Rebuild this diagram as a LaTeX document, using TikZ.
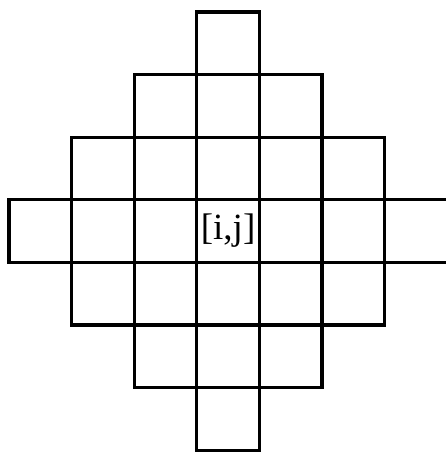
\documentclass[tikz,border=0pt]{standalone}
\usepackage{fontspec}
\setmainfont{Liberation Serif}
\begin{document}
\begin{tikzpicture}[x=1pt,y=1pt,
  cell/.style={draw=black, line width=3.3pt, minimum size=62.6pt, inner sep=0pt, outer sep=0pt, font=\fontsize{37}{40}\selectfont}]
\useasboundingbox (0,0) rectangle (446,452);
\foreach \r/\a/\b in {0/3/3,1/2/4,2/1/5,3/0/6,4/1/5,5/2/4,6/3/3}{
  \foreach \k in {\a,...,\b}{
    \node[cell] (c\r\k) at ({9+62.6*(\k+0.5)},{452-(12+62.6*(\r+0.5))}) {};
  }
}
\node[font=\fontsize{37}{40}\selectfont, inner sep=0pt] (lbl) at (c33) {[i,j]};
\end{tikzpicture}
\end{document}
